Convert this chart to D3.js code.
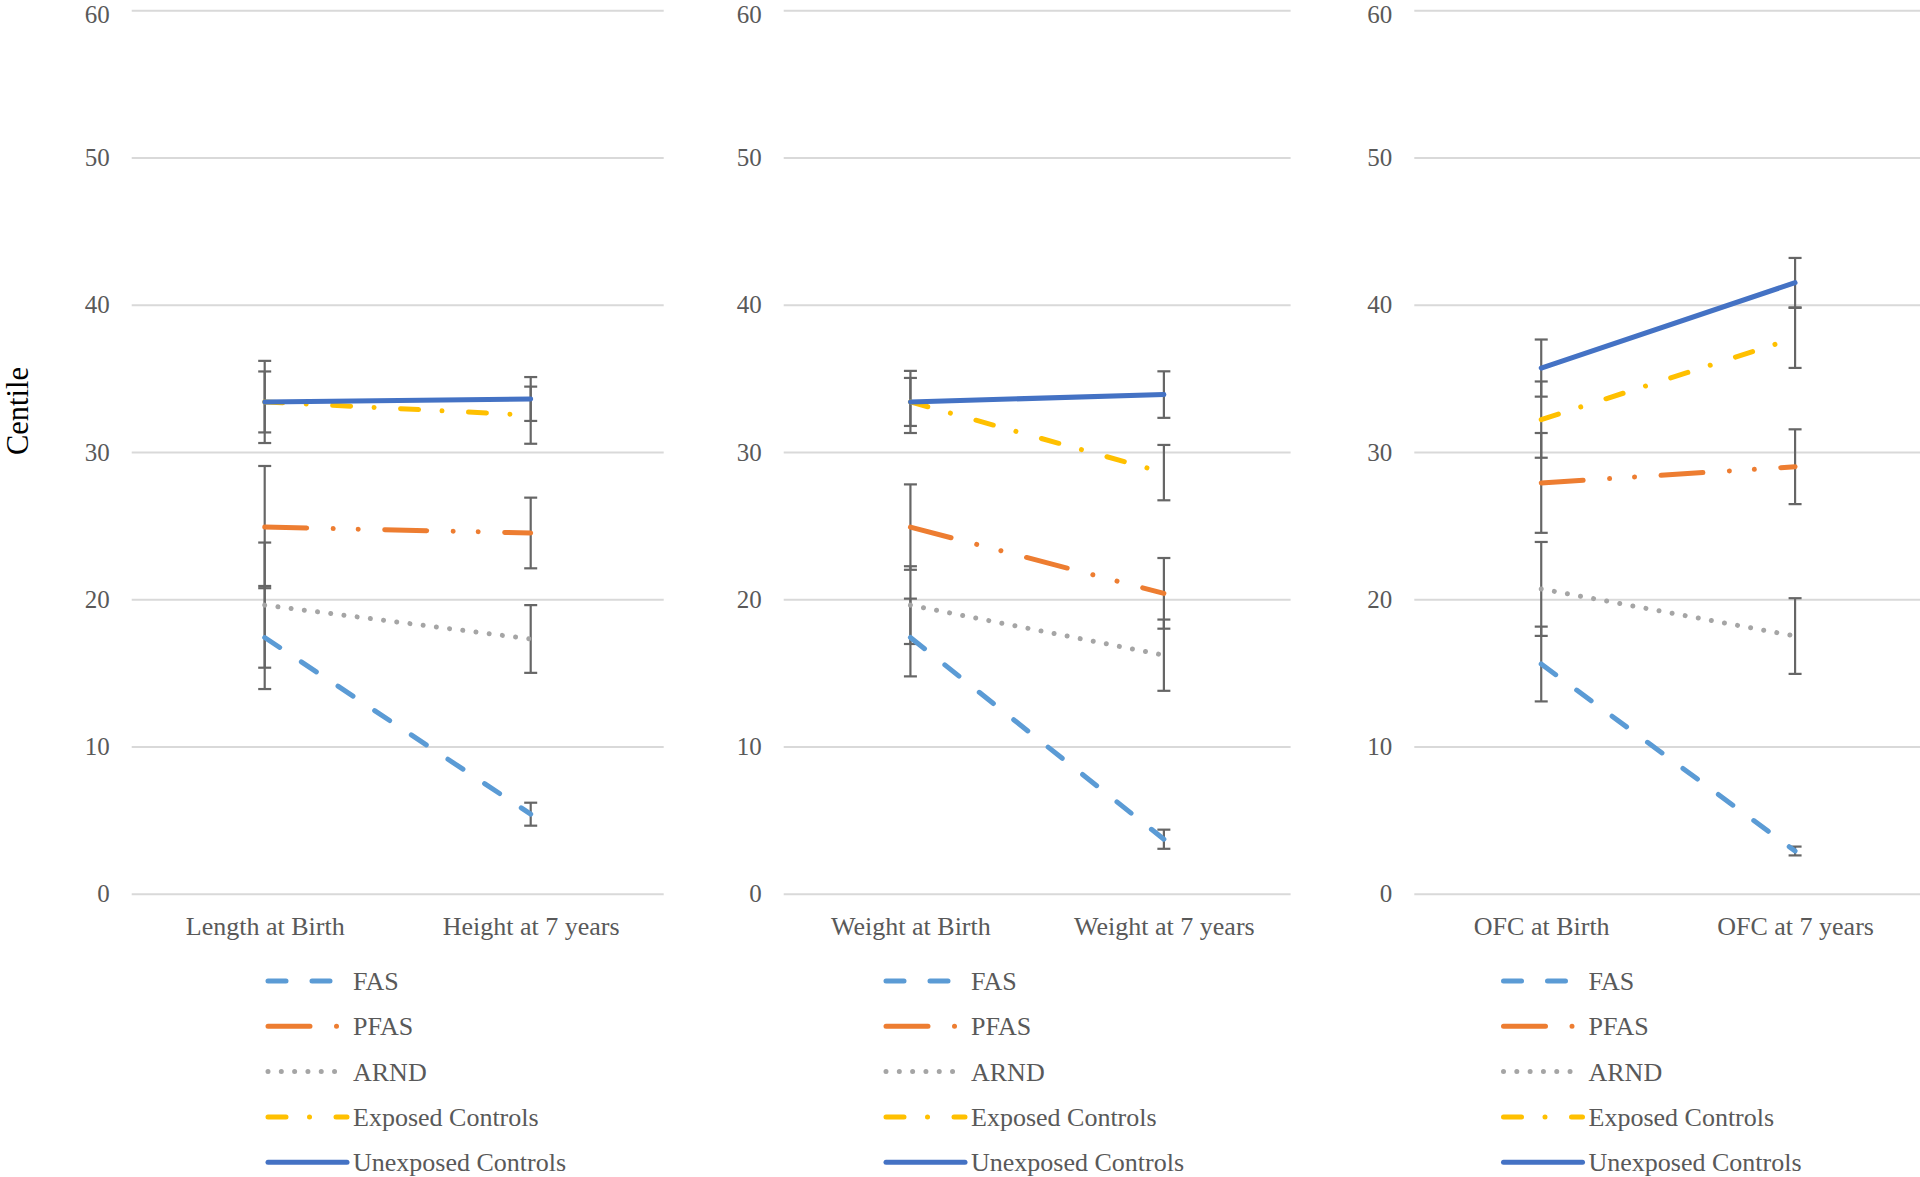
<!DOCTYPE html>
<html>
<head>
<meta charset="utf-8">
<script src="https://cdn.jsdelivr.net/npm/d3@7"></script>
<style>
  html, body { margin: 0; padding: 0; background: #fff; }
  svg { display: block; }
</style>
</head>
<body>
<div id="chart"></div>
<script>
// series names (legend order)
const SERIES = ['FAS', 'PFAS', 'ARND', 'Exposed Controls', 'Unexposed Controls'];

// x categories per panel
const CATS_LENGTH = ['Length at Birth', 'Height at 7 years'];
const CATS_WEIGHT = ['Weight at Birth', 'Weight at 7 years'];
const CATS_OFC = ['OFC at Birth', 'OFC at 7 years'];

// y ticks
const Y_TICKS = [0, 10, 20, 30, 40, 50, 60];

// centile values [birth, 7 years], same order as SERIES
const LENGTH_VALS = [[17.4, 5.4], [24.9, 24.5], [19.6, 17.3], [33.4, 32.5], [33.4, 33.6]];
const LENGTH_ERR  = [[3.5, 0.78], [4.15, 2.4], [4.25, 2.3], [2.07, 1.94], [2.79, 1.49]];

const WEIGHT_VALS = [[17.4, 3.7], [24.9, 20.4], [19.6, 16.2], [33.4, 28.6], [33.4, 33.9]];
const WEIGHT_ERR  = [[2.64, 0.65], [2.9, 2.4], [2.64, 2.42], [1.63, 1.88], [2.11, 1.58]];

const OFC_VALS = [[15.6, 2.9], [27.9, 29.0], [20.7, 17.5], [32.2, 37.75], [35.7, 41.5]];
const OFC_ERR  = [[2.54, 0.3], [3.39, 2.54], [3.19, 2.57], [2.59, 2.04], [1.94, 1.68]];

// line styles
const STYLE = {
	'FAS': { color: '#5B9BD5', dash: '18,26' },
	'PFAS': { color: '#ED7D31', dash: '42,26.5,0.01,25,0.01,26.5' },
	'ARND': { color: '#A5A5A5', dash: '0.01,13.3' },
	'Exposed Controls': { color: '#FFC000', dash: '18,23.5,0.01,26.5' },
	'Unexposed Controls': { color: '#4472C4', dash: null }
};

const W = 1920, H = 1177;
const LINE_W = 5;
const FONT = '"Liberation Serif", "Times New Roman", serif';
const TEXT_COLOR = '#595959';

// panel layout
const PANELS = [
	{ cats: CATS_LENGTH, vals: LENGTH_VALS, err: LENGTH_ERR, x0: 131.7, x1: 663.7, legX: 268 },
	{ cats: CATS_WEIGHT, vals: WEIGHT_VALS, err: WEIGHT_ERR, x0: 783.7, x1: 1290.6, legX: 886 },
	{ cats: CATS_OFC, vals: OFC_VALS, err: OFC_ERR, x0: 1414.3, x1: 1922, legX: 1503.5 }
];

const y = d3.scaleLinear().domain([0, 60]).range([893.7, 10.3]);

const svg = d3.select('#chart').append('svg')
	.attr('width', W)
	.attr('height', H)
	.attr('viewBox', `0 0 ${W} ${H}`)
	.attr('font-family', FONT);

// y axis title
svg.append('text')
	.attr('transform', 'translate(27.5,411) rotate(-90)')
	.attr('text-anchor', 'middle')
	.attr('font-size', 30.5)
	.attr('fill', '#000')
	.text('Centile');

PANELS.forEach(p => {
	const g = svg.append('g');
	const x = d3.scalePoint()
		.domain(p.cats)
		.range([p.x0, p.x1])
		.padding(0.5);

	// y axis + gridlines
	g.append('g')
		.attr('transform', `translate(${p.x0},0)`)
		.call(d3.axisLeft(y).tickValues(Y_TICKS).tickSize(-(p.x1 - p.x0)).tickPadding(22))
		.attr('font-family', FONT)
		.call(a => a.select('.domain').remove())
		.call(a => a.selectAll('.tick line').attr('stroke', '#D9D9D9').attr('stroke-width', 2))
		.call(a => a.selectAll('.tick text')
			.attr('fill', TEXT_COLOR)
			.attr('font-size', 25)
			.attr('font-family', FONT)
			// keep the top label inside the page
			.attr('dy', d => d === 60 ? '0.5em' : '0.32em'));

	// x axis labels
	g.append('g')
		.attr('transform', `translate(0,${y(0)})`)
		.call(d3.axisBottom(x).tickSize(0).tickPadding(23))
		.attr('font-family', FONT)
		.call(a => a.select('.domain').remove())
		.call(a => a.selectAll('.tick text')
			.attr('fill', TEXT_COLOR)
			.attr('font-size', 26)
			.attr('font-family', FONT));

	// error bars
	const bars = [];
	SERIES.forEach((s, i) => {
		p.cats.forEach((c, j) => {
			bars.push({ cx: x(c), v: p.vals[i][j], e: p.err[i][j] });
		});
	});
	const eb = g.append('g')
		.attr('stroke', '#666666')
		.attr('stroke-width', 2.2)
		.attr('fill', 'none');
	const ebG = eb.selectAll('g').data(bars).join('g');
	ebG.append('line')
		.attr('x1', d => d.cx).attr('x2', d => d.cx)
		.attr('y1', d => y(d.v - d.e)).attr('y2', d => y(d.v + d.e));
	ebG.append('line')
		.attr('x1', d => d.cx - 6.5).attr('x2', d => d.cx + 6.5)
		.attr('y1', d => y(d.v + d.e)).attr('y2', d => y(d.v + d.e));
	ebG.append('line')
		.attr('x1', d => d.cx - 6.5).attr('x2', d => d.cx + 6.5)
		.attr('y1', d => y(d.v - d.e)).attr('y2', d => y(d.v - d.e));

	// series lines
	const line = d3.line()
		.x(d => x(d.c))
		.y(d => y(d.v));
	SERIES.forEach((s, i) => {
		const pts = p.cats.map((c, j) => ({ c: c, v: p.vals[i][j] }));
		g.append('path')
			.datum(pts)
			.attr('d', line)
			.attr('fill', 'none')
			.attr('stroke', STYLE[s].color)
			.attr('stroke-width', LINE_W)
			.attr('stroke-linecap', 'round')
			.attr('stroke-dasharray', STYLE[s].dash);
	});

	// legend
	const leg = g.append('g').selectAll('g')
		.data(SERIES)
		.join('g')
		.attr('transform', (d, i) => `translate(${p.legX},${981 + i * 45.3})`);
	leg.append('line')
		.attr('x1', 0).attr('x2', 79)
		.attr('y1', 0).attr('y2', 0)
		.attr('stroke', d => STYLE[d].color)
		.attr('stroke-width', LINE_W)
		.attr('stroke-linecap', 'round')
		.attr('stroke-dasharray', d => STYLE[d].dash);
	leg.append('text')
		.attr('x', 85)
		.attr('y', 9)
		.attr('font-size', 26)
		.attr('fill', TEXT_COLOR)
		.text(d => d);
});
</script>
</body>
</html>
